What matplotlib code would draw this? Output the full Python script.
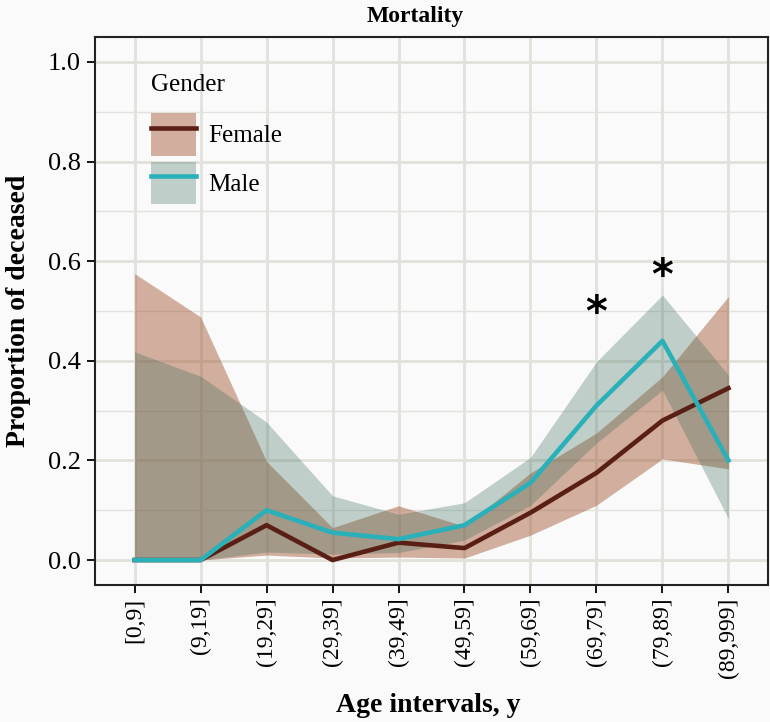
import matplotlib
matplotlib.use("Agg")
import matplotlib.pyplot as plt
from matplotlib.patches import Patch
from matplotlib.lines import Line2D
from matplotlib.ticker import MultipleLocator

# 연령 구간
AGES = ["[0,9]", "(9,19]", "(19,29]", "(29,39]", "(39,49]",
        "(49,59]", "(59,69]", "(69,79]", "(79,89]", "(89,999]"]

# 여성
F_MEAN = [0.0, 0.0, 0.07, 0.0, 0.035, 0.024, 0.095, 0.175, 0.28, 0.345]
F_LO = [0.0, 0.0, 0.01, 0.004, 0.006, 0.004, 0.05, 0.11, 0.203, 0.183]
F_HI = [0.575, 0.488, 0.198, 0.065, 0.109, 0.068, 0.175, 0.255, 0.368, 0.529]

# 남성
M_MEAN = [0.0, 0.0, 0.10, 0.055, 0.042, 0.07, 0.155, 0.31, 0.44, 0.20]
M_LO = [0.0, 0.0, 0.016, 0.012, 0.015, 0.04, 0.11, 0.235, 0.341, 0.083]
M_HI = [0.418, 0.369, 0.277, 0.129, 0.092, 0.115, 0.206, 0.398, 0.532, 0.371]

# 유의 표시 (구간 인덱스, y)
STARS = [(7, 0.493), (8, 0.568)]

F_LINE, F_FILL = "#5a1f14", "#a0522d"
M_LINE, M_FILL = "#2ab0b8", "#3a6b5a"
BG = "#fafafa"
GRID = "#e2e2dc"

plt.rcParams["font.family"] = ["Liberation Serif", "DejaVu Serif"]

fig = plt.figure(figsize=(7.7, 7.22), dpi=100, facecolor=BG)
ax = fig.add_axes([0.1234, 0.1898, 0.874, 0.759], facecolor=BG)

x = list(range(len(AGES)))
ax.fill_between(x, F_LO, F_HI, color=F_FILL, alpha=0.45, lw=0, zorder=2)
ax.fill_between(x, M_LO, M_HI, color=M_FILL, alpha=0.3, lw=0, zorder=3)
ax.plot(x, F_MEAN, color=F_LINE, lw=3.3, zorder=4)
ax.plot(x, M_MEAN, color=M_LINE, lw=3.3, zorder=5)

for i, y in STARS:
    ax.text(i, y, "*", ha="center", va="center", fontsize=30,
            fontweight="bold", color="black", family="DejaVu Sans", zorder=6)

ax.set_xlim(-0.6, len(AGES) - 1 + 0.6)
ax.set_ylim(-0.05, 1.05)
ax.set_xticks(x)
ax.set_xticklabels(AGES, rotation=90, fontsize=17)
ax.yaxis.set_major_locator(MultipleLocator(0.2))
ax.yaxis.set_minor_locator(MultipleLocator(0.1))
ax.set_yticks([0, 0.2, 0.4, 0.6, 0.8, 1.0])
ax.set_yticklabels(["0.0", "0.2", "0.4", "0.6", "0.8", "1.0"], fontsize=19)
ax.tick_params(axis="both", which="major", length=6, width=1.3,
               color="black", pad=4)
ax.tick_params(axis="x", which="major", pad=3)
ax.tick_params(axis="y", which="minor", length=0)
ax.grid(True, which="major", color=GRID, lw=2.0, zorder=0)
ax.grid(True, which="minor", axis="y", color=GRID, lw=1.0, zorder=0)
ax.set_axisbelow(True)
for sp in ax.spines.values():
    sp.set_color("#222222")
    sp.set_linewidth(1.5)

fig.text(415 / 770, 1 - 22 / 722, "Mortality", ha="center", va="baseline",
         fontsize=17, fontweight="bold")
fig.text(428 / 770, 1 - 712 / 722, "Age intervals, y", ha="center",
         va="baseline", fontsize=20, fontweight="bold")
ax.set_ylabel("Proportion of deceased", fontsize=20, fontweight="bold", labelpad=12)

handles = [
    (Patch(facecolor=F_FILL, alpha=0.45, lw=0), Line2D([], [], color=F_LINE, lw=3.3)),
    (Patch(facecolor=M_FILL, alpha=0.3, lw=0), Line2D([], [], color=M_LINE, lw=3.3)),
]
leg = ax.legend(handles, ["Female", "Male"], title="Gender", loc="upper left",
                bbox_to_anchor=(0.0037, 1.029), frameon=False, fontsize=18,
                title_fontsize=18, handlelength=1.8, handleheight=2.25,
                labelspacing=0.24, handletextpad=0.5, borderpad=1.62,
                alignment="left")
# 제목과 항목 사이 간격만 넓힘 (pt)
leg._legend_box.sep = 12.2

fig.savefig("out.png", dpi=100, facecolor=BG)
